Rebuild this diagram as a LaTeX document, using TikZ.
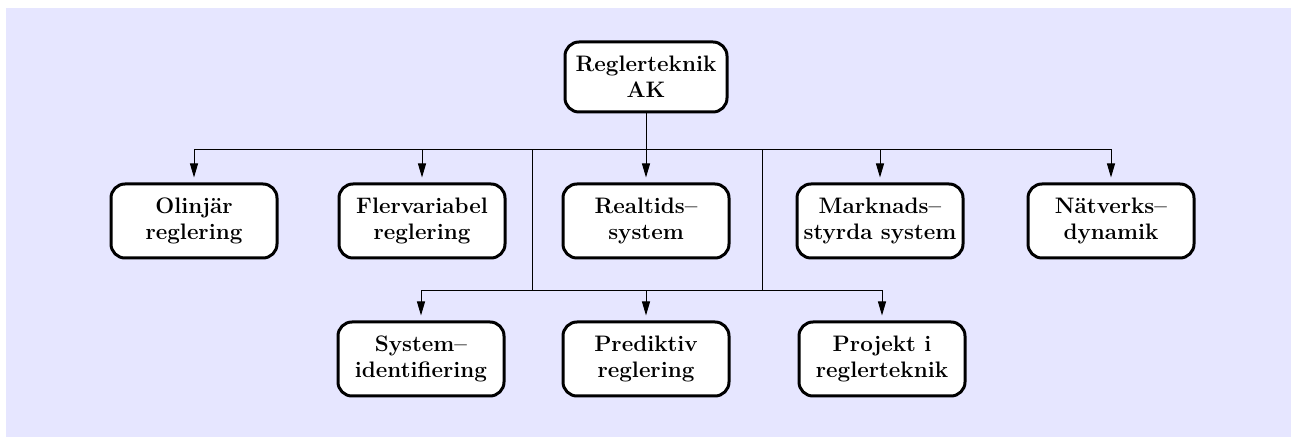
\documentclass[tikz,border=0pt]{standalone}
\usepackage{tikz}
\usetikzlibrary{arrows.meta}
\usetikzlibrary{positioning}
\definecolor{bglav}{RGB}{230,230,255}

\begin{document}
\begin{tikzpicture}[x=0.5pt,y=-0.5pt]
            \tikzset{every node/.style={font=\fontsize{11.2}{13}\selectfont\bfseries, align=center},
                    kurs/.style={draw, fill=white, line width=1.5pt, rounded corners=7pt,
                                 minimum width=83pt, minimum height=37pt, inner sep=1pt},
                    >={Triangle[length=7pt,width=4pt]},
                    every path/.style={line width=0.5pt}}
            \useasboundingbox (0,0) rectangle (1291,437);
            \fill[bglav] (6,8) rectangle (1291,437);
            \node[kurs, minimum width=81pt, minimum height=35pt] (ak) at (646,77) {Reglerteknik\\AK};
            \node[kurs] (olin) at (194,221) {Olinjär\\reglering};
            \node[kurs] (flerv) at (422,221) {Flervariabel\\reglering};
            \node[kurs] (realt) at (646,221) {Realtids--\\system};
            \node[kurs] (markn) at (880,221) {Marknads--\\styrda system};
            \node[kurs] (natv) at (1111,221) {Nätverks--\\dynamik};
            \node[kurs] (sysid) at (421,359) {System--\\identifiering};
            \node[kurs] (pred) at (646,359) {Prediktiv\\reglering};
            \node[kurs] (proj) at (882,359) {Projekt i\\reglerteknik};
            \coordinate (bus1) at (646,150);
            \coordinate (bus2) at (646,291);
            \coordinate (dl) at (532,150);
            \coordinate (dr) at (762,150);
            \path [->, shorten >=2.5pt] (ak) edge (realt);
            \draw [->, shorten >=2.5pt] (bus1) -| (olin);
            \draw [->, shorten >=2.5pt] (bus1) -| (flerv);
            \draw [->, shorten >=2.5pt] (bus1) -| (markn);
            \draw [->, shorten >=2.5pt] (bus1) -| (natv);
            \draw (dl) |- (bus2);
            \draw (dr) |- (bus2);
            \draw [->, shorten >=2.5pt] (bus2) -| (sysid);
            \draw [->, shorten >=2.5pt] (bus2) -- (pred);
            \draw [->, shorten >=2.5pt] (bus2) -| (proj);
        \end{tikzpicture}
\end{document}
